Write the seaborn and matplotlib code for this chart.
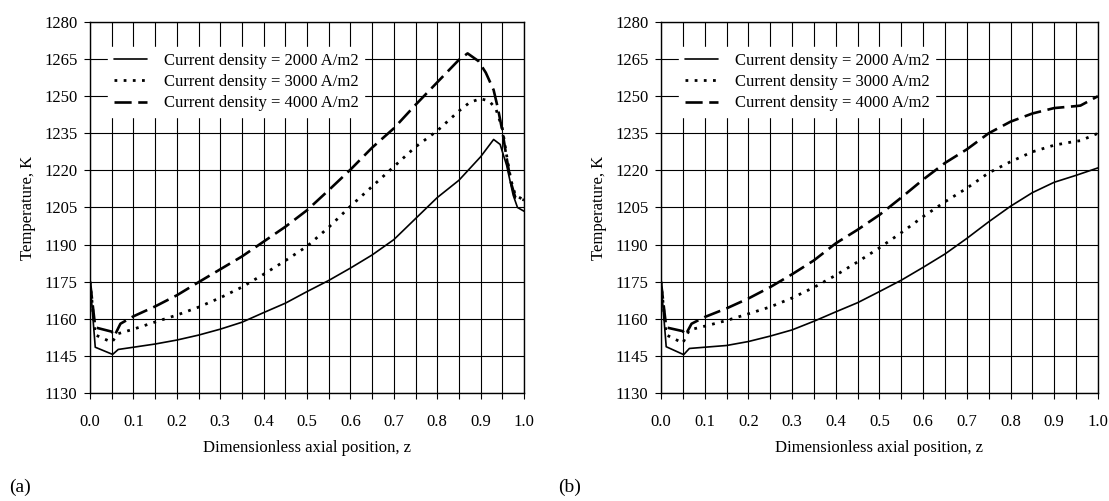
import numpy as np
import matplotlib
matplotlib.use("Agg")
import matplotlib.pyplot as plt
import seaborn as sns

# ── data ──────────────────────────────────────────────────────────────────────
# (a)
z_a_2000 = [0.0, 0.012, 0.052, 0.065, 0.10, 0.15, 0.20, 0.25, 0.30, 0.35, 0.40, 0.45, 0.50,
            0.55, 0.60, 0.65, 0.70, 0.75, 0.80, 0.85, 0.90, 0.93, 0.945, 0.96, 0.975, 0.985, 1.0]
T_a_2000 = [1175, 1148.5, 1145.6, 1147.6, 1148.5, 1149.8, 1151.4, 1153.4, 1155.8, 1158.6, 1162.5,
            1166.3, 1171.0, 1175.5, 1180.5, 1185.8, 1192.0, 1200.5, 1209.0, 1216.0, 1225.5, 1232.5,
            1230.5, 1222.0, 1210.0, 1205.0, 1203.5]

z_a_3000 = [0.0, 0.012, 0.05, 0.065, 0.10, 0.15, 0.20, 0.25, 0.30, 0.35, 0.40, 0.45, 0.50, 0.55,
            0.60, 0.65, 0.70, 0.75, 0.80, 0.85, 0.875, 0.90, 0.92, 0.935, 0.95, 0.96, 0.97, 0.98, 1.0]
T_a_3000 = [1175, 1153.5, 1150.5, 1154.0, 1155.8, 1158.7, 1161.5, 1164.7, 1168.5, 1172.8, 1178.0,
            1183.5, 1189.3, 1197.0, 1205.5, 1213.5, 1221.5, 1229.5, 1236.0, 1244.0, 1247.5, 1249.0,
            1248.0, 1245.0, 1237.0, 1226.0, 1216.0, 1210.0, 1208.0]

z_a_4000 = [0.0, 0.012, 0.05, 0.056, 0.07, 0.10, 0.15, 0.20, 0.25, 0.30, 0.35, 0.40, 0.45, 0.50,
            0.55, 0.60, 0.65, 0.70, 0.75, 0.80, 0.85, 0.87, 0.895, 0.912, 0.93, 0.94, 0.95, 0.96,
            0.97, 0.98, 1.0]
T_a_4000 = [1175, 1156.5, 1154.8, 1153.0, 1158.0, 1161.0, 1165.0, 1169.5, 1174.8, 1180.0, 1185.2,
            1191.2, 1197.2, 1203.9, 1212.0, 1220.3, 1229.2, 1237.0, 1246.5, 1255.6, 1264.7, 1267.3,
            1264.2, 1259.5, 1252.5, 1245.0, 1236.0, 1225.0, 1215.0, 1209.0, 1208.0]

# (b)
z_b_2000 = [0.0, 0.012, 0.052, 0.065, 0.10, 0.15, 0.20, 0.25, 0.30, 0.35, 0.40, 0.45, 0.50,
            0.55, 0.60, 0.65, 0.70, 0.75, 0.80, 0.85, 0.90, 0.95, 1.0]
T_b_2000 = [1175, 1148.7, 1145.5, 1148.0, 1148.5, 1149.2, 1150.8, 1153.0, 1155.5, 1159.0, 1162.8,
            1166.5, 1171.0, 1175.6, 1180.8, 1186.2, 1192.5, 1199.2, 1205.5, 1211.0, 1215.2, 1218.0,
            1221.0]

z_b_3000 = [0.0, 0.012, 0.05, 0.065, 0.10, 0.15, 0.20, 0.25, 0.30, 0.35, 0.40, 0.45, 0.50,
            0.55, 0.60, 0.65, 0.70, 0.75, 0.80, 0.85, 0.90, 0.95, 0.96, 1.0]
T_b_3000 = [1175, 1153.5, 1150.2, 1155.5, 1157.0, 1159.3, 1162.0, 1164.8, 1168.4, 1172.7, 1177.6,
            1183.0, 1188.7, 1194.8, 1201.3, 1207.3, 1212.8, 1219.0, 1223.5, 1227.5, 1230.2, 1231.8,
            1232.0, 1235.0]

z_b_4000 = [0.0, 0.012, 0.05, 0.056, 0.07, 0.10, 0.15, 0.20, 0.25, 0.30, 0.35, 0.40, 0.45, 0.50,
            0.55, 0.60, 0.65, 0.70, 0.75, 0.80, 0.85, 0.90, 0.95, 0.96, 1.0]
T_b_4000 = [1175, 1156.5, 1155.0, 1153.4, 1158.0, 1160.7, 1164.2, 1168.2, 1172.8, 1178.0, 1183.6,
            1190.5, 1196.0, 1202.0, 1209.0, 1216.3, 1223.0, 1228.5, 1235.0, 1239.7, 1243.0, 1245.2,
            1246.0, 1246.2, 1250.0]

labels = ["Current density = 2000 A/m2",
          "Current density = 3000 A/m2",
          "Current density = 4000 A/m2"]
x_ticks = [0.0, 0.1, 0.2, 0.3, 0.4, 0.5, 0.6, 0.7, 0.8, 0.9, 1.0]
y_ticks = [1130, 1145, 1160, 1175, 1190, 1205, 1220, 1235, 1250, 1265, 1280]

panels = [
    ("(a)", [(z_a_2000, T_a_2000), (z_a_3000, T_a_3000), (z_a_4000, T_a_4000)]),
    ("(b)", [(z_b_2000, T_b_2000), (z_b_3000, T_b_3000), (z_b_4000, T_b_4000)]),
]

# line looks: solid / dotted / long dash
styles = [
    dict(linestyle="-", linewidth=1.2),
    dict(linestyle=(0, (1.0, 2.3)), linewidth=2.0),
    dict(linestyle=(0, (6.5, 2.5)), linewidth=1.9),
]

sns.set_theme(style="ticks")
plt.rcParams["font.family"] = ["Liberation Serif", "DejaVu Serif"]
plt.rcParams["axes.edgecolor"] = "black"
plt.rcParams["xtick.color"] = "black"
plt.rcParams["ytick.color"] = "black"
plt.rcParams["text.color"] = "black"
plt.rcParams["axes.labelcolor"] = "black"

fig = plt.figure(figsize=(11.09, 5.01), dpi=100)
ax_rects = [[0.0812, 0.2156, 0.3913, 0.7405],
            [0.5960, 0.2156, 0.3940, 0.7405]]

for rect, (tag, series) in zip(ax_rects, panels):
    ax = fig.add_axes(rect)
    for (z, T), lab, st in zip(series, labels, styles):
        sns.lineplot(x=z, y=T, ax=ax, color="black", label=lab, sort=False,
                     estimator=None, **st)

    ax.set_xlim(0, 1)
    ax.set_ylim(1130, 1280)
    ax.set_xticks(x_ticks)
    ax.set_xticks(np.arange(0.05, 1.0, 0.1), minor=True)
    ax.set_xticklabels([f"{v:.1f}" for v in x_ticks])
    ax.set_yticks(y_ticks)
    ax.grid(which="both", color="black", linewidth=0.8)
    ax.set_axisbelow(True)
    ax.tick_params(which="both", direction="out", length=4, width=0.8,
                   labelsize=12, top=False, right=False, colors="black")
    ax.tick_params(axis="x", which="both", pad=11)
    ax.tick_params(axis="y", pad=5)
    for sp in ax.spines.values():
        sp.set_visible(True)
        sp.set_color("black")
        sp.set_linewidth(1.0)

    ax.set_xlabel("Dimensionless axial position, z", fontsize=12, labelpad=7)
    ax.set_ylabel("Temperature, K", fontsize=12, labelpad=6)

    leg = ax.legend(loc="upper left", bbox_to_anchor=(0.041, 0.933), borderaxespad=0,
                    frameon=True, fancybox=False, facecolor="white", edgecolor="white",
                    framealpha=1, fontsize=12, handlelength=2.0, labelspacing=0.32,
                    borderpad=0.35, handletextpad=1.0)

fig.text(0.008, 0.028, "(a)", fontsize=14, va="center", ha="left")
fig.text(0.503, 0.028, "(b)", fontsize=14, va="center", ha="left")

fig.savefig("out.png", dpi=100)
